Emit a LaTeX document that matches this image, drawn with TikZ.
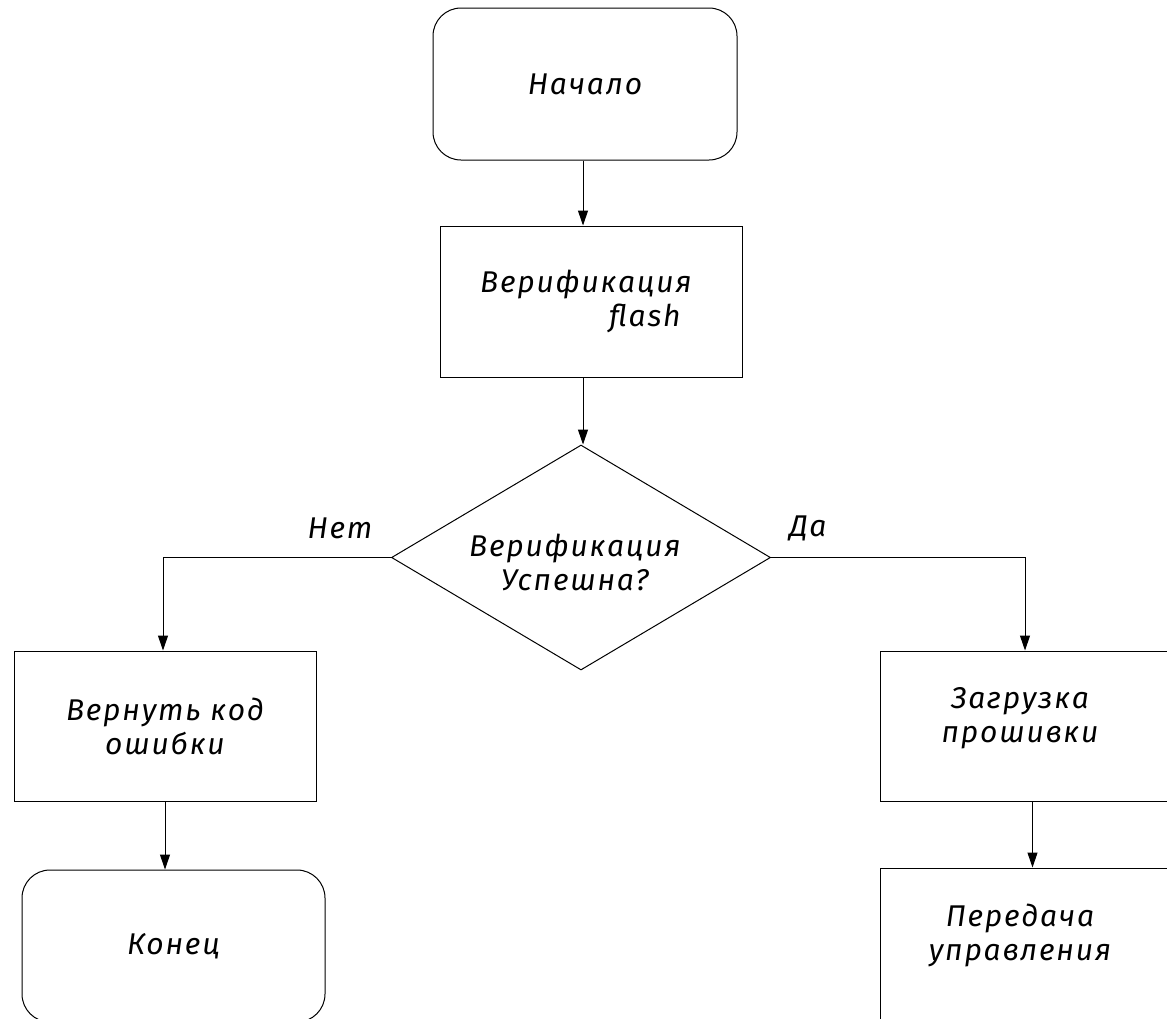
\documentclass[tikz,border=0pt]{standalone}
\usepackage{fontspec}
\setmainfont{Fira Sans}[LetterSpace=6]
\usetikzlibrary{arrows.meta,shapes.geometric}
\begin{document}
\begin{tikzpicture}[x=1pt,y=-1pt,
  every node/.style={font=\fontsize{30}{34}\selectfont\itshape, align=center},
  box/.style={draw, line width=1pt, inner sep=0pt},
  term/.style={box, rounded corners=28pt},
  arr/.style={line width=1pt, -{Triangle[length=15pt,width=10pt]}},
  lbl/.style={inner sep=0pt}
]
\useasboundingbox (0,0) rectangle (1167,1018);
\clip (0,0) rectangle (1167,1018);
\node[term, minimum width=304pt, minimum height=152pt] (start) at (585,84) {Начало};
\node[box, minimum width=302pt, minimum height=151pt] (verif) at (591,301.5) {};
\node[lbl, align=left] (verift) at (586,301) {Верификация\\\hspace*{4.3em}flash};
\node[box, diamond, aspect=1.684, minimum width=379pt, minimum height=225pt] (dec) at (581,557.5) {};
\node[lbl] (dect) at (575,562) {Верификация\\Успешна?};
\node[box, minimum width=302pt, minimum height=150pt] (lbox) at (165,726) {Вернуть код\\ошибки};
\node[term, minimum width=303pt, minimum height=152pt] (endn) at (173.5,946) {Конец};
\node[box, minimum width=305pt, minimum height=150pt] (rbox) at (1032.5,726) {};
\node[lbl] (rboxt) at (1020,718) {Загрузка\\прошивки};
\node[box, minimum width=305pt, minimum height=152pt] (fin) at (1032.5,944) {};
\node[lbl] (fint) at (1020,935) {Передача\\управления};
\node[lbl] (no) at (340,528) {Нет};
\node[lbl] (yes) at (808,528) {Да};
\draw[arr] ([xshift=-2pt]start.south) -- ([xshift=-2pt]start.south |- verif.north);
\draw[arr] ([xshift=2pt]dec.north |- verif.south) -- ([xshift=2pt]dec.north);
\draw[arr] (dec.west) -| ([xshift=-2pt]lbox.north);
\draw[arr] (dec.east) -| ([xshift=-7.5pt]rbox.north);
\draw[arr] (lbox.south) -- (lbox.south |- endn.north);
\draw[arr] (rbox.south) -- (rbox.south |- fin.north);
\end{tikzpicture}
\end{document}
